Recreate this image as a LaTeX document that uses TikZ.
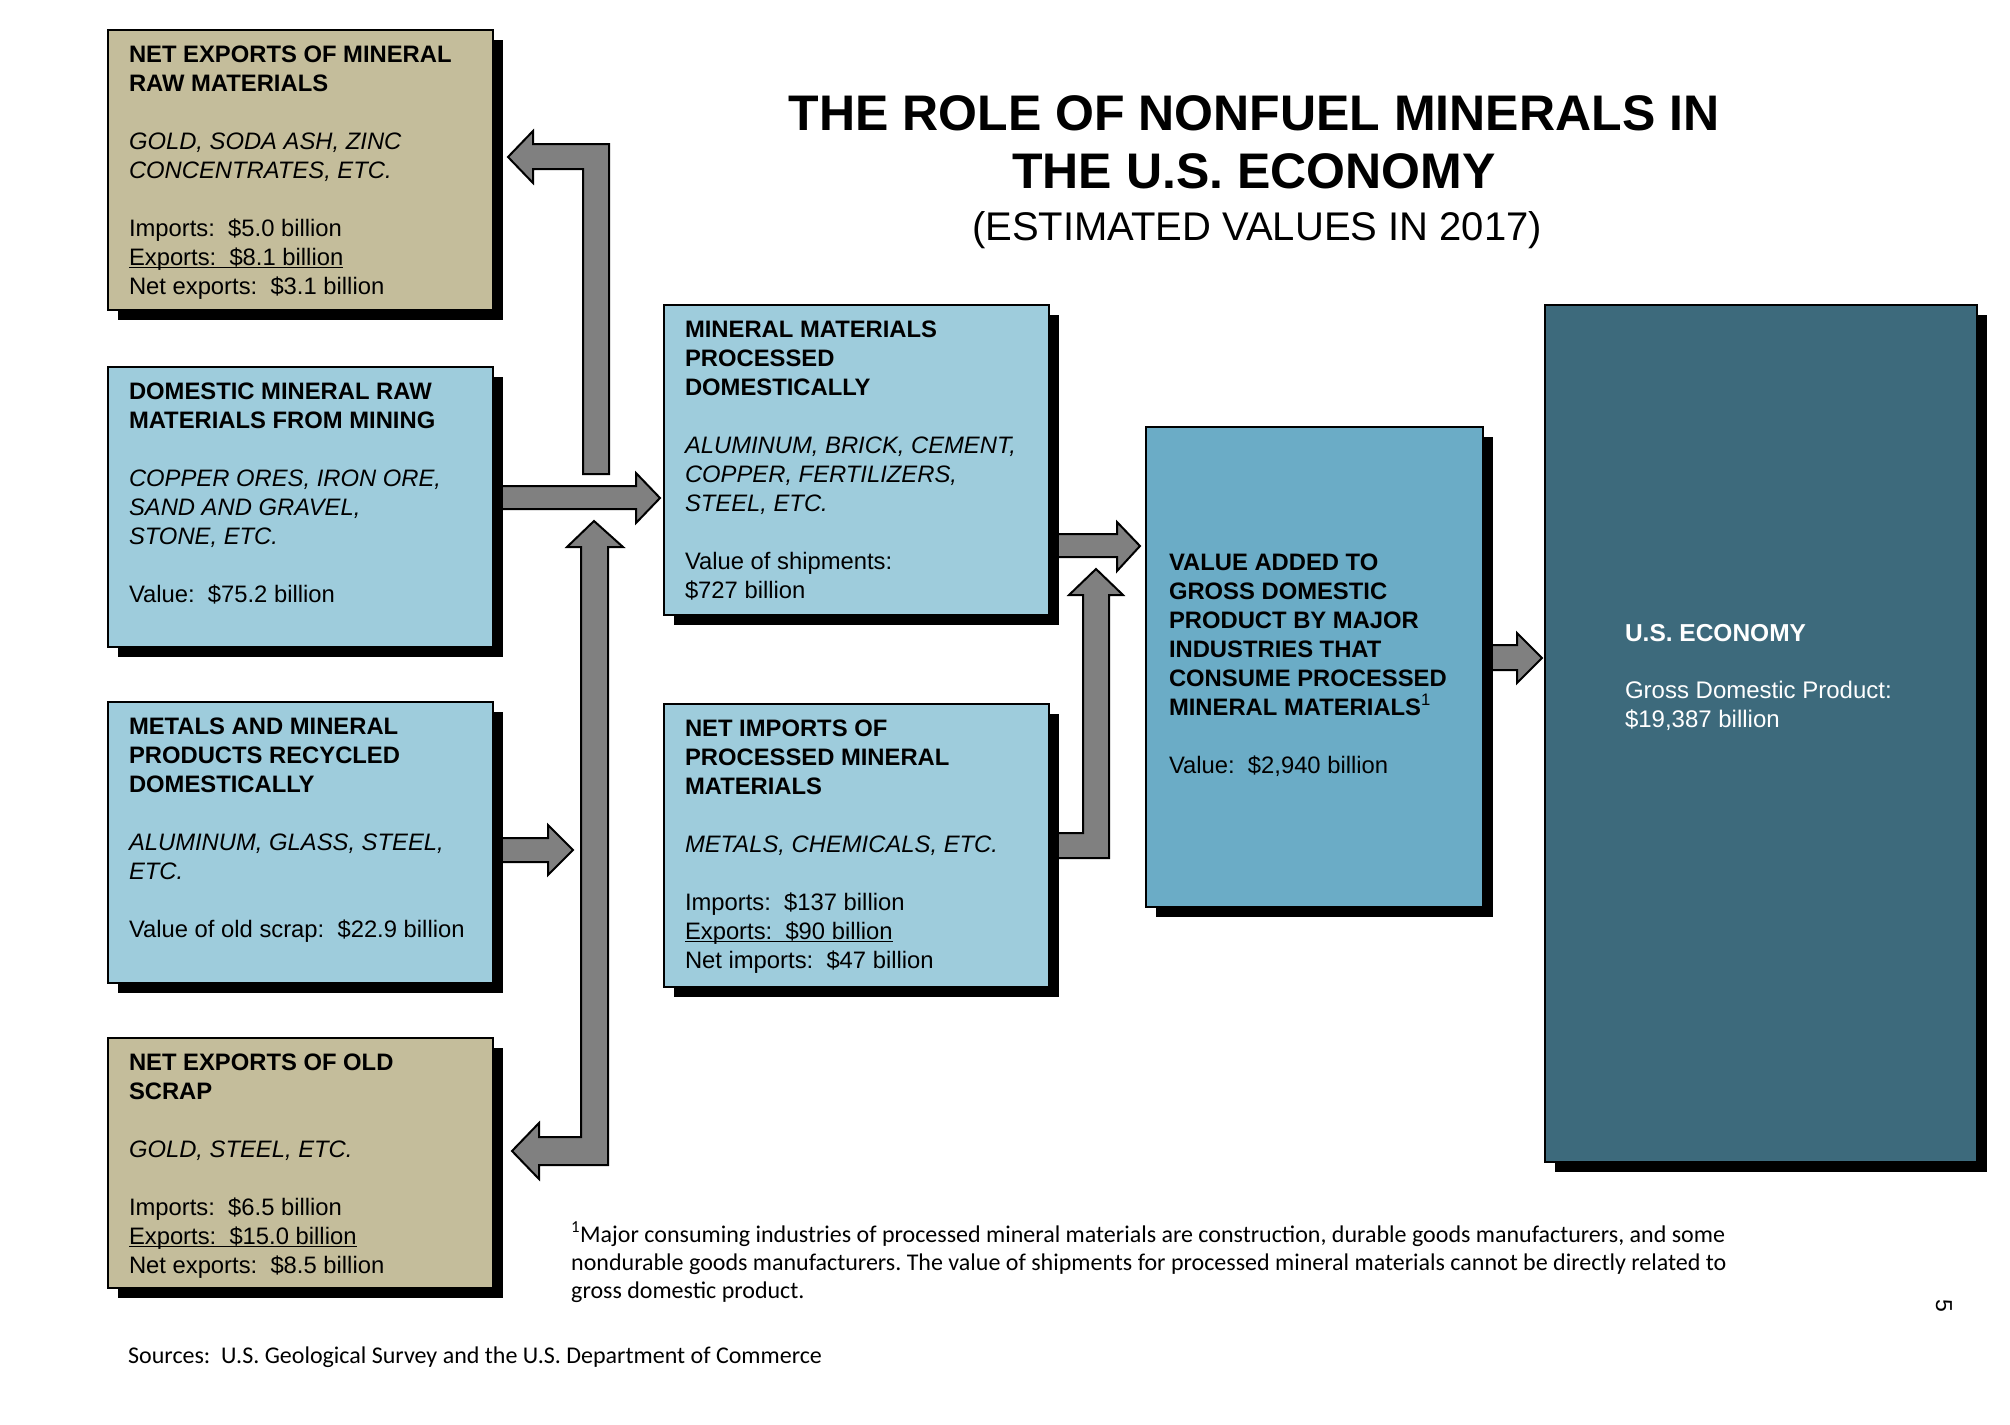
\documentclass[tikz,border=0pt]{standalone}
\usepackage{fontspec}
\setmainfont{Liberation Sans}
\newfontfamily\fnfont{Carlito}
\usetikzlibrary{calc}
\frenchspacing
\definecolor{tanbox}{RGB}{196,189,155}
\definecolor{lbluebox}{RGB}{158,204,220}
\definecolor{mbluebox}{RGB}{107,172,198}
\definecolor{dbluebox}{RGB}{61,106,124}
\definecolor{arrowgray}{RGB}{128,128,128}
\newcommand\myul[1]{\leavevmode\setbox0=\hbox{#1}\rlap{\rule[-3pt]{\wd0}{1.5pt}}\box0}
\newcommand\boxtext[1]{\parbox[t]{440pt}{\raggedright\fontsize{23.8}{29}\selectfont #1}}
\newcommand\panel[6]{%
  \fill[black] ($(#2,#3)+(10,10)$) rectangle ++(#4,#5);
  \node[panel, fill=#6, minimum width=#4pt, minimum height=#5pt] (#1) at (#2,#3) {};}
\tikzset{
  panel/.style={draw=black, line width=1.5pt, anchor=north west, inner sep=0pt, outer sep=0pt},
  blockarrow/.style={fill=arrowgray, draw=black, line width=2pt, line join=miter},
  paneltext/.style={anchor=base west, inner sep=0pt, outer sep=0pt},
  fntext/.style={anchor=base west, inner sep=0pt, font=\fnfont\fontsize{24}{28}\selectfont\frenchspacing},
}
\begin{document}
\begin{tikzpicture}[x=1pt,y=-1pt]
\fill[white] (0,0) rectangle (2010,1424);
\useasboundingbox (0,0) rectangle (2010,1424);

% block arrows (drawn first, so that they pass under the boxes)
\draw[blockarrow] (609,474) -- (609,144) -- (533,144) -- (533,131) -- (508,157) -- (533,183) -- (533,169) -- (583,169) -- (583,474) -- cycle;
\draw[blockarrow] (493,486) -- (636,486) -- (636,473) -- (660,498) -- (636,523) -- (636,509) -- (493,509) -- cycle;
\draw[blockarrow] (594,521) -- (623,547) -- (608,547) -- (608,1165) -- (539,1165) -- (539,1179) -- (512,1151) -- (539,1123) -- (539,1137) -- (581,1137) -- (581,547) -- (567,547) -- cycle;
\draw[blockarrow] (493,838) -- (548,838) -- (548,825) -- (573,850) -- (548,875) -- (548,862) -- (493,862) -- cycle;
\draw[blockarrow] (1049,534) -- (1117,534) -- (1117,522) -- (1140,546) -- (1117,571) -- (1117,557) -- (1049,557) -- cycle;
\draw[blockarrow] (1049,833) -- (1083,833) -- (1083,595) -- (1069,595) -- (1096,569) -- (1123,595) -- (1109,595) -- (1109,858) -- (1049,858) -- cycle;
\draw[blockarrow] (1483,645) -- (1517,645) -- (1517,633) -- (1542,658) -- (1517,683) -- (1517,670) -- (1483,670) -- cycle;

% panels
\panel{b1}{108}{30}{385}{280}{tanbox}
\panel{b2}{108}{367}{385}{280}{lbluebox}
\panel{b3}{108}{702}{385}{281}{lbluebox}
\panel{b4}{108}{1038}{385}{250}{tanbox}
\panel{b5}{664}{305}{385}{310}{lbluebox}
\panel{b6}{664}{704}{385}{283}{lbluebox}
\panel{b7}{1146}{427}{337}{480}{mbluebox}
\panel{b8}{1545}{305}{432}{857}{dbluebox}

% panel texts
\node[paneltext] (t1) at (129,62) {\boxtext{\textbf{NET EXPORTS OF MINERAL\\RAW MATERIALS}\\[29pt]
\textit{GOLD, SODA ASH, ZINC\\CONCENTRATES, ETC.}\\[29pt]
Imports:\ \ \$5.0 billion\\
\myul{Exports:\ \ \$8.1 billion}\\
Net exports:\ \ \$3.1 billion}};

\node[paneltext] (t2) at (129,399) {\boxtext{\textbf{DOMESTIC MINERAL RAW\\MATERIALS FROM MINING}\\[29pt]
\textit{COPPER ORES, IRON ORE,\\SAND AND GRAVEL,\\STONE, ETC.}\\[29pt]
Value:\ \ \$75.2 billion}};

\node[paneltext] (t3) at (129,734) {\boxtext{\textbf{METALS AND MINERAL\\PRODUCTS RECYCLED\\DOMESTICALLY}\\[29pt]
\textit{ALUMINUM, GLASS, STEEL,\\ETC.}\\[29pt]
Value of old scrap:\ \ \$22.9 billion}};

\node[paneltext] (t4) at (129,1070) {\boxtext{\textbf{NET EXPORTS OF OLD\\SCRAP}\\[29pt]
\textit{GOLD, STEEL, ETC.}\\[29pt]
Imports:\ \ \$6.5 billion\\
\myul{Exports:\ \ \$15.0 billion}\\
Net exports:\ \ \$8.5 billion}};

\node[paneltext] (t5) at (685,337) {\boxtext{\textbf{MINERAL MATERIALS\\PROCESSED\\DOMESTICALLY}\\[29pt]
\textit{ALUMINUM, BRICK, CEMENT,\\COPPER, FERTILIZERS,\\STEEL, ETC.}\\[29pt]
Value of shipments:\\\$727 billion}};

\node[paneltext] (t6) at (685,736) {\boxtext{\textbf{NET IMPORTS OF\\PROCESSED MINERAL\\MATERIALS}\\[29pt]
\textit{METALS, CHEMICALS, ETC.}\\[29pt]
Imports:\ \ \$137 billion\\
\myul{Exports:\ \ \$90 billion}\\
Net imports:\ \ \$47 billion}};

\node[paneltext] (t7) at (1169,570) {\boxtext{\textbf{VALUE ADDED TO\\GROSS DOMESTIC\\PRODUCT BY MAJOR\\INDUSTRIES THAT\\CONSUME PROCESSED\\MINERAL MATERIALS\textsuperscript{\mdseries 1}}\\[29pt]
Value:\ \ \$2,940 billion}};

\node[paneltext, text=white, font=\bfseries\fontsize{24.5}{29}\selectfont] (t8a) at (1625,641) {U.S. ECONOMY};
\node[paneltext, text=white] (t8b) at (1625,698) {\parbox[t]{340pt}{\raggedright\fontsize{24}{29}\selectfont Gross Domestic Product:\\\$19,387 billion}};

% title
\node[anchor=base, inner sep=0pt, font=\bfseries\fontsize{50}{50}\selectfont] (title1) at (1254,130) {THE ROLE OF NONFUEL MINERALS IN};
\node[anchor=base, inner sep=0pt, font=\bfseries\fontsize{50}{50}\selectfont] (title2) at (1254,188) {THE U.S. ECONOMY};
\node[anchor=base, inner sep=0pt, font=\fontsize{40}{40}\selectfont] (subtitle) at (1257,240) {(ESTIMATED VALUES IN 2017)};

% footnote and sources
\node[fntext] (fn1) at (571,1242) {\textsuperscript{1}Major consuming industries of processed mineral materials are construction, durable goods manufacturers, and some};
\node[fntext] (fn2) at (571,1270) {nondurable goods manufacturers. The value of shipments for processed mineral materials cannot be directly related to};
\node[fntext] (fn3) at (571,1298) {gross domestic product.};
\node[fntext] (src) at (128,1363) {Sources:\ \ U.S. Geological Survey and the U.S. Department of Commerce};

% page number
\node[rotate=-90, inner sep=0pt, font=\fontsize{23}{23}\selectfont] (pnum) at (1944,1306) {5};
\end{tikzpicture}
\end{document}
